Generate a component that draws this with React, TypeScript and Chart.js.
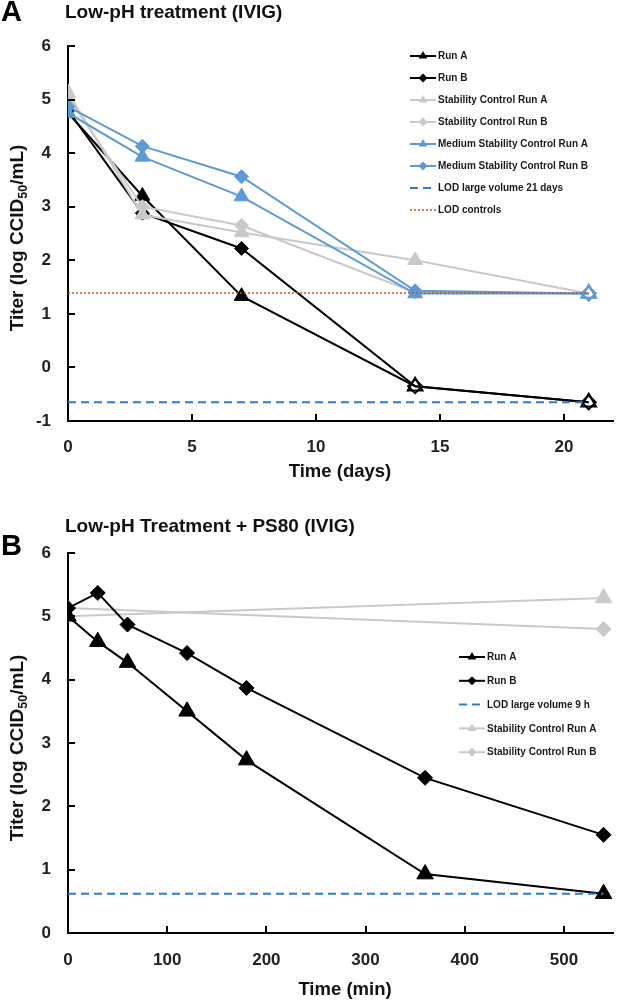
import React, { useEffect, useRef } from "react";
import { Chart, registerables } from "chart.js";
Chart.register(...registerables);

const FONT = "'Liberation Sans', Arial, Helvetica, sans-serif";

// ---------- Panel A: Low-pH treatment (IVIG) ----------
const daysA = [0, 3, 7, 14, 21];
const runA_A = [4.75, 3.2, 1.33, -0.35, -0.65];
const runB_A = [4.8, 2.88, 2.22, -0.35, -0.65];
const stabA_A = [5.13, 2.85, 2.52, 2.0, 1.38];
const stabB_A = [5.05, 3.0, 2.65, 1.4, 1.38];
const medA_A = [4.75, 3.93, 3.19, 1.38, 1.38];
const medB_A = [4.87, 4.13, 3.56, 1.43, 1.38];
const openRunsA = [false, false, false, true, true];
const openCtrlA = [false, false, false, false, true];
const lodDaysA = [0, 21];
const lodLargeA = [-0.65, -0.65];
const lodCtrlA = [1.39, 1.39];
const xTicksA = [0, 5, 10, 15, 20];
const yTicksA = [-1, 0, 1, 2, 3, 4, 5, 6];

// ---------- Panel B: Low-pH Treatment + PS80 (IVIG) ----------
const minsB = [0, 30, 60, 120, 180, 360, 540];
const runA_B = [5.0, 4.6, 4.27, 3.5, 2.73, 0.93, 0.62];
const runB_B = [5.13, 5.37, 4.87, 4.42, 3.87, 2.45, 1.55];
const stabMinsB = [0, 540];
const stabA_B = [5.0, 5.29];
const stabB_B = [5.13, 4.8];
const lodMinsB = [0, 540];
const lodB = [0.62, 0.62];
const xTicksB = [0, 100, 200, 300, 400, 500];
const yTicksB = [0, 1, 2, 3, 4, 5, 6];

const BLACK = "#000000";
const GREY = "#c9c9c9";
const BLUE = "#5b9bd5";
const LODBLUE = "#2e7bcf";
const ORANGE = "#c55a11";

function series(label: string, xs: number[], ys: number[], color: string, style: string, radius: number, open: boolean[] | null, order: number) {
  return {
    label,
    data: xs.map((x, i) => ({ x, y: ys[i] })),
    borderColor: color,
    backgroundColor: color,
    borderWidth: 2,
    pointStyle: style,
    pointRadius: radius,
    pointBackgroundColor: ys.map((_, i) => (open && open[i] ? "rgba(255,255,255,0)" : color)),
    pointBorderColor: color,
    pointBorderWidth: ys.map((_, i) => (open && open[i] ? 2 : 1)),
    order,
  };
}

function refLine(label: string, xs: number[], ys: number[], color: string, dash: number[], width: number, order: number) {
  return {
    label,
    data: xs.map((x, i) => ({ x, y: ys[i] })),
    borderColor: color,
    backgroundColor: color,
    borderWidth: width,
    borderDash: dash,
    pointRadius: 0,
    pointStyle: false,
    order,
  };
}

function drawMarker(ctx: CanvasRenderingContext2D, style: string, x: number, y: number, r: number, color: string) {
  ctx.beginPath();
  if (style === "triangle") {
    ctx.moveTo(x, y - r);
    ctx.lineTo(x + r * 0.866, y + r * 0.5);
    ctx.lineTo(x - r * 0.866, y + r * 0.5);
  } else {
    ctx.moveTo(x, y - r);
    ctx.lineTo(x + r, y);
    ctx.lineTo(x, y + r);
    ctx.lineTo(x - r, y);
  }
  ctx.closePath();
  ctx.fillStyle = color;
  ctx.fill();
}

interface PanelCfg {
  letter: string;
  letterY: number;
  title: string;
  titleY: number;
  xTitle: string;
  xTitleX: number;
  xTitleY: number;
  yTitleY: number;
  xMin: number;
  xMax: number;
  yMin: number;
  yMax: number;
  xTicks: number[];
  yTicks: number[];
  padTop: number;
  padRight: number;
  xAxisH: number;
  xPad: number;
  legendOrder: string[];
  legendX: number;
  legendY: number;
  legendStep: number;
}

function panelPlugin(cfg: PanelCfg) {
  return {
    id: "panelDecor" + cfg.letter,
    afterDraw(chart: any) {
      const ctx: CanvasRenderingContext2D = chart.ctx;
      const area = chart.chartArea;
      const xs = chart.scales.x;
      const ys = chart.scales.y;
      ctx.save();
      // inside tick marks
      ctx.strokeStyle = "#000";
      ctx.lineWidth = 2;
      ctx.beginPath();
      cfg.xTicks.forEach((v) => {
        const px = Math.round(xs.getPixelForValue(v));
        ctx.moveTo(px, area.bottom);
        ctx.lineTo(px, area.bottom - 7);
      });
      cfg.yTicks.forEach((v) => {
        const py = Math.round(ys.getPixelForValue(v));
        ctx.moveTo(area.left, py);
        ctx.lineTo(area.left + 7, py);
      });
      ctx.stroke();

      // panel letter
      ctx.fillStyle = "#000";
      ctx.textBaseline = "middle";
      ctx.textAlign = "left";
      ctx.font = `bold 29px ${FONT}`;
      ctx.fillText(cfg.letter, 1, cfg.letterY);
      // title
      ctx.fillStyle = "#111";
      ctx.font = `bold 19px ${FONT}`;
      ctx.fillText(cfg.title, 65, cfg.titleY);
      // x title
      ctx.textAlign = "center";
      ctx.font = `bold 18.5px ${FONT}`;
      ctx.fillText(cfg.xTitle, cfg.xTitleX, cfg.xTitleY);
      // y title with subscript
      ctx.save();
      ctx.translate(17, cfg.yTitleY);
      ctx.rotate(-Math.PI / 2);
      const p1 = "Titer (log CCID";
      const p2 = "50";
      const p3 = "/mL)";
      ctx.font = `bold 19px ${FONT}`;
      const w1 = ctx.measureText(p1).width;
      const w3 = ctx.measureText(p3).width;
      ctx.font = `bold 12.5px ${FONT}`;
      const w2 = ctx.measureText(p2).width;
      const total = w1 + w2 + w3;
      let cx = -total / 2;
      ctx.textAlign = "left";
      ctx.textBaseline = "alphabetic";
      ctx.font = `bold 19px ${FONT}`;
      ctx.fillText(p1, cx, 6);
      cx += w1;
      ctx.font = `bold 12.5px ${FONT}`;
      ctx.fillText(p2, cx, 10);
      cx += w2;
      ctx.font = `bold 19px ${FONT}`;
      ctx.fillText(p3, cx, 6);
      ctx.restore();

      // legend
      const dsets = chart.data.datasets;
      cfg.legendOrder.forEach((lab, i) => {
        const ds = dsets.find((d: any) => d.label === lab);
        if (!ds) return;
        const y = cfg.legendY + i * cfg.legendStep;
        const x0 = cfg.legendX;
        const x1 = x0 + 26;
        ctx.save();
        ctx.strokeStyle = ds.borderColor;
        ctx.lineWidth = ds.borderWidth;
        ctx.setLineDash(ds.borderDash || []);
        ctx.beginPath();
        ctx.moveTo(x0, y);
        ctx.lineTo(x1, y);
        ctx.stroke();
        ctx.restore();
        if (ds.pointRadius > 0) {
          drawMarker(ctx, ds.pointStyle, (x0 + x1) / 2, y, ds.pointStyle === "triangle" ? 5 : 4.5, ds.borderColor);
        }
        ctx.fillStyle = "#1a1a1a";
        ctx.font = `bold 10px ${FONT}`;
        ctx.textAlign = "left";
        ctx.textBaseline = "middle";
        ctx.fillText(lab, x1 + 2, y + 0.5);
      });
      ctx.restore();
    },
  };
}

function makeOptions(cfg: PanelCfg) {
  const tickFont = { family: FONT, size: 17, weight: "bold" as const };
  return {
    responsive: false,
    animation: false as const,
    layout: { padding: { top: cfg.padTop, right: cfg.padRight, left: 0, bottom: 0 } },
    plugins: { legend: { display: false }, tooltip: { enabled: false }, title: { display: false } },
    scales: {
      x: {
        type: "linear" as const,
        min: cfg.xMin,
        max: cfg.xMax,
        afterBuildTicks: (s: any) => {
          s.ticks = cfg.xTicks.map((v) => ({ value: v }));
        },
        afterFit: (s: any) => {
          s.height = cfg.xAxisH;
        },
        grid: { display: false, drawTicks: false },
        border: { display: true, color: "#000", width: 2 },
        ticks: { font: tickFont, color: "#222", padding: cfg.xPad, autoSkip: false, maxRotation: 0 },
      },
      y: {
        type: "linear" as const,
        min: cfg.yMin,
        max: cfg.yMax,
        afterBuildTicks: (s: any) => {
          s.ticks = cfg.yTicks.map((v) => ({ value: v }));
        },
        afterFit: (s: any) => {
          s.width = 68;
        },
        grid: { display: false, drawTicks: false },
        border: { display: true, color: "#000", width: 2 },
        ticks: { font: tickFont, color: "#222", padding: 17, autoSkip: false },
      },
    },
  };
}

const cfgA: PanelCfg = {
  letter: "A",
  letterY: 13,
  title: "Low-pH treatment (IVIG)",
  titleY: 13,
  xTitle: "Time (days)",
  xTitleX: 340,
  xTitleY: 472,
  yTitleY: 238,
  xMin: 0,
  xMax: 22,
  yMin: -1,
  yMax: 6,
  xTicks: xTicksA,
  yTicks: yTicksA,
  padTop: 46,
  padRight: 4,
  xAxisH: 69,
  xPad: 16,
  legendOrder: [
    "Run A",
    "Run B",
    "Stability Control Run A",
    "Stability Control Run B",
    "Medium Stability Control Run A",
    "Medium Stability Control Run B",
    "LOD large volume 21 days",
    "LOD controls",
  ],
  legendX: 410,
  legendY: 56,
  legendStep: 22,
};

const cfgB: PanelCfg = {
  letter: "B",
  letterY: 57,
  title: "Low-pH Treatment + PS80 (IVIG)",
  titleY: 37,
  xTitle: "Time (min)",
  xTitleX: 345,
  xTitleY: 500,
  yTitleY: 258,
  xMin: 0,
  xMax: 550,
  yMin: 0,
  yMax: 6,
  xTicks: xTicksB,
  yTicks: yTicksB,
  padTop: 63,
  padRight: 2,
  xAxisH: 68,
  xPad: 17,
  legendOrder: ["Run A", "Run B", "LOD large volume 9 h", "Stability Control Run A", "Stability Control Run B"],
  legendX: 459,
  legendY: 167,
  legendStep: 23.8,
};

function Panel({ cfg, datasets, height }: { cfg: PanelCfg; datasets: any[]; height: number }) {
  const ref = useRef<HTMLCanvasElement | null>(null);
  useEffect(() => {
    if (!ref.current) return;
    const chart = new Chart(ref.current, {
      type: "line",
      data: { datasets },
      options: makeOptions(cfg) as any,
      plugins: [panelPlugin(cfg)],
    });
    return () => chart.destroy();
  }, []);
  return <canvas ref={ref} width={624} height={height} style={{ display: "block", width: 624, height }} />;
}

export default function App() {
  const datasetsA = [
    series("Run A", daysA, runA_A, BLACK, "triangle", 8.5, openRunsA, 7),
    series("Run B", daysA, runB_A, BLACK, "rectRot", 7, openRunsA, 6),
    series("Stability Control Run A", daysA, stabA_A, GREY, "triangle", 8.5, openCtrlA, 5),
    series("Stability Control Run B", daysA, stabB_A, GREY, "rectRot", 7, openCtrlA, 4),
    series("Medium Stability Control Run A", daysA, medA_A, BLUE, "triangle", 8.5, openCtrlA, 3),
    series("Medium Stability Control Run B", daysA, medB_A, BLUE, "rectRot", 7, openCtrlA, 2),
    refLine("LOD large volume 21 days", lodDaysA, lodLargeA, LODBLUE, [8, 5], 2, 1),
    refLine("LOD controls", lodDaysA, lodCtrlA, ORANGE, [2, 2], 1.5, 0),
  ];
  const datasetsB = [
    series("Run A", minsB, runA_B, BLACK, "triangle", 9.5, null, 1),
    series("Run B", minsB, runB_B, BLACK, "rectRot", 7.5, null, 2),
    refLine("LOD large volume 9 h", lodMinsB, lodB, LODBLUE, [8, 5], 2, 0),
    series("Stability Control Run A", stabMinsB, stabA_B, GREY, "triangle", 9.5, null, 4),
    series("Stability Control Run B", stabMinsB, stabB_B, GREY, "rectRot", 7.5, null, 3),
  ];
  return (
    <div style={{ position: "absolute", left: 0, top: 0, width: 624, height: 1001, background: "#fff" }}>
      <Panel cfg={cfgA} datasets={datasetsA} height={490} />
      <Panel cfg={cfgB} datasets={datasetsB} height={511} />
    </div>
  );
}
